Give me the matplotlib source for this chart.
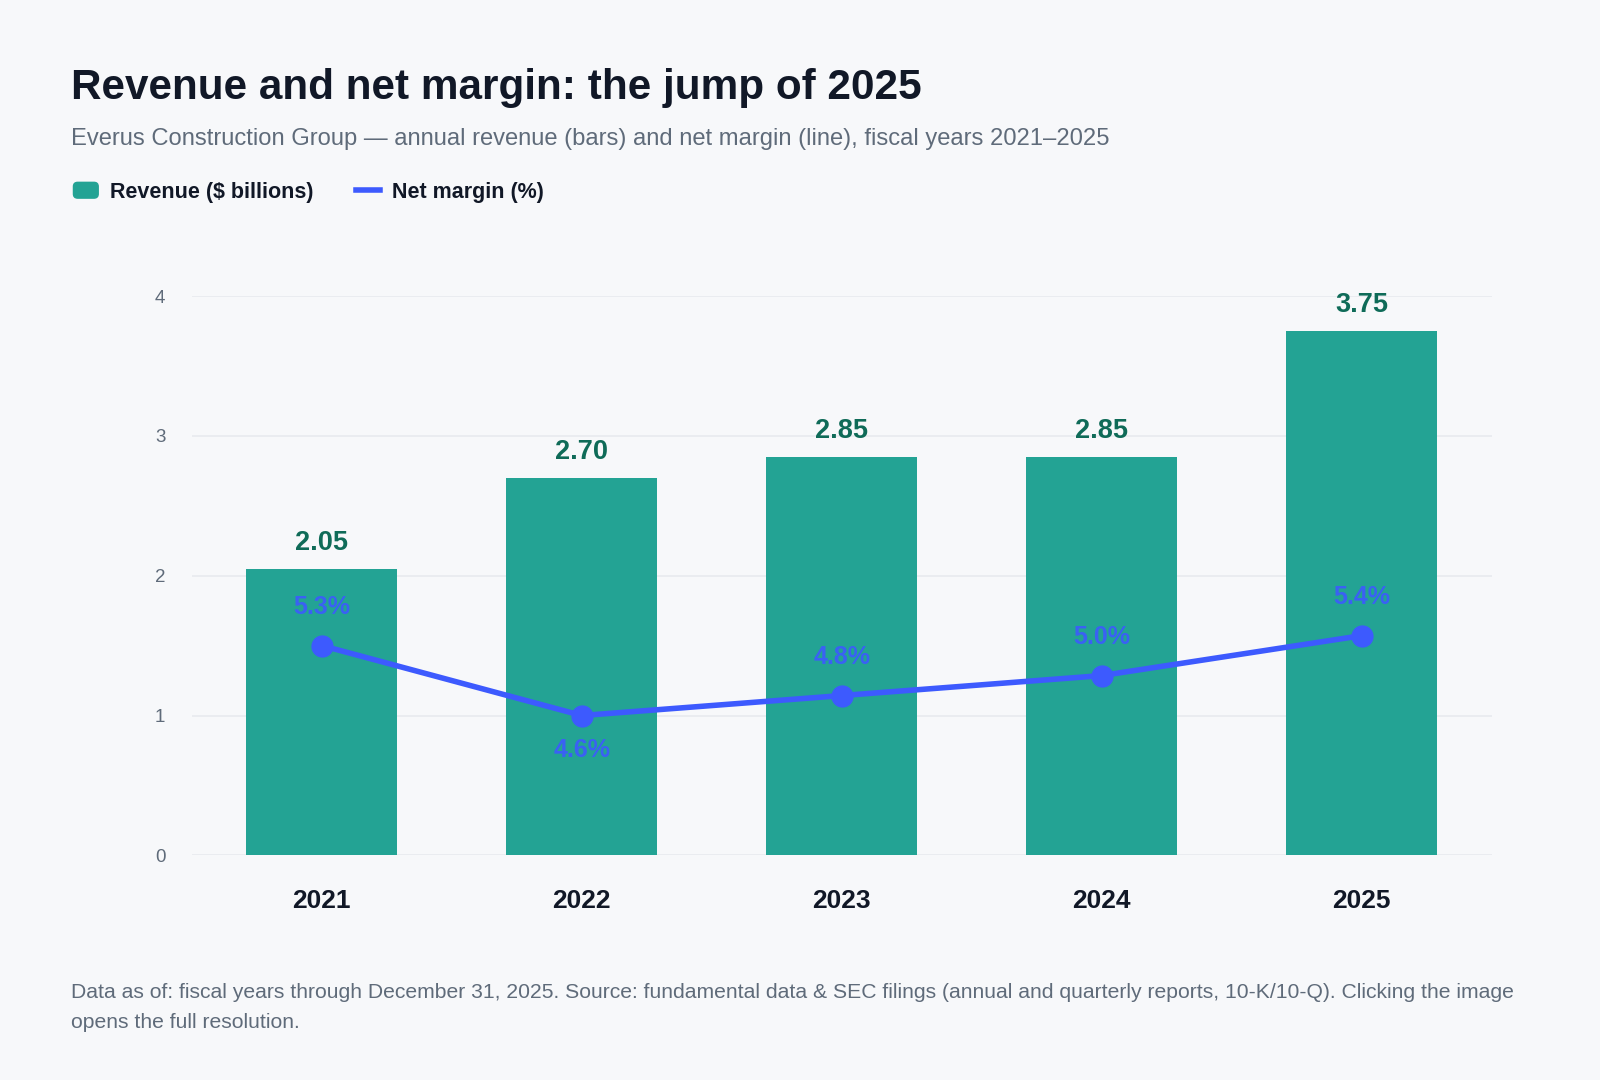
import matplotlib
matplotlib.use("Agg")
import matplotlib.pyplot as plt
import matplotlib.patches as mpatches
from matplotlib.legend_handler import HandlerPatch
from matplotlib.lines import Line2D

plt.rcParams["font.family"] = ["Liberation Sans", "DejaVu Sans"]

years = ["2021", "2022", "2023", "2024", "2025"]
revenue = [2.05, 2.70, 2.85, 2.85, 3.75]
net_margin = [5.3, 4.6, 4.8, 5.0, 5.4]
rev_ticks = [0, 1, 2, 3, 4]

BG = "#f7f8fa"
TEAL = "#23a394"
TEAL_DARK = "#0f6b58"
BLUE = "#3d5afe"
INK = "#111827"
GREY = "#5f6b7a"
GRID = "#e8eaee"


def rounded_patch(legend, orig_handle, xdescent, ydescent, width, height, fontsize):
    return mpatches.FancyBboxPatch((-xdescent, -ydescent), width, height,
                                   boxstyle="round,pad=0,rounding_size=3")


fig = plt.figure(figsize=(16, 10.8), dpi=100, facecolor=BG)
ax = fig.add_axes([0.1199, 0.2080, 0.8125, 0.5179])
ax.set_facecolor(BG)

x = list(range(len(years)))
ax.bar(x, revenue, width=0.58, color=TEAL, zorder=2)
for xi, v in zip(x, revenue):
    ax.annotate(f"{v:.2f}", (xi, v), xytext=(0, 9.5), textcoords="offset points",
                ha="center", va="bottom", fontsize=19.5, fontweight="bold",
                color=TEAL_DARK, annotation_clip=False)

ax.set_xlim(-0.5, len(years) - 0.5)
ax.set_ylim(0, 4)
ax.set_yticks(rev_ticks)
ax.set_yticklabels([str(t) for t in rev_ticks])
ax.set_xticks(x)
ax.set_xticklabels(years, fontsize=19, fontweight="bold", color=INK)
ax.tick_params(axis="x", length=0, pad=24)
ax.tick_params(axis="y", length=0, pad=19, labelsize=13.5, labelcolor=GREY)
ax.grid(axis="y", color=GRID, linewidth=1.2, zorder=0)
for s in ax.spines.values():
    s.set_visible(False)

ax2 = ax.twinx()
ax2.set_ylim(3.2, 8.8)
ax2.axis("off")
ax2.plot(x, net_margin, color=BLUE, linewidth=4, marker="o", markersize=15,
         solid_capstyle="round", zorder=3)
low = min(net_margin)
for xi, m in zip(x, net_margin):
    below = m == low
    ax2.annotate(f"{m:.1f}%", (xi, m), xytext=(0, -24.5 if below else 27.5),
                 textcoords="offset points", ha="center", va="center",
                 fontsize=18, fontweight="bold", color=BLUE, alpha=0.9)

# header
fig.text(0.0446, 0.908, "Revenue and net margin: the jump of 2025", fontsize=30.4,
         fontweight="bold", color=INK, va="baseline")
fig.text(0.0446, 0.866,
         "Everus Construction Group \u2014 annual revenue (bars) and net margin (line), fiscal years 2021\u20132025",
         fontsize=17.1, color=GREY, va="baseline")

# legend
handles = [mpatches.Patch(color=TEAL), Line2D([0], [0], color=BLUE, linewidth=4)]
fig.legend(handles, ["Revenue ($ billions)", "Net margin (%)"], loc="center left",
           bbox_to_anchor=(0.0338, 0.822), ncol=2, frameon=False,
           prop={"weight": "bold", "size": 15.5}, handlelength=1.15,
           handleheight=0.75, handletextpad=0.55, columnspacing=1.95,
           labelcolor=INK,
           handler_map={mpatches.Patch: HandlerPatch(patch_func=rounded_patch)})

fig.text(0.0446, 0.0485,
         "Data as of: fiscal years through December 31, 2025. Source: fundamental data & SEC filings (annual and quarterly reports, 10-K/10-Q). Clicking the image\nopens the full resolution.",
         fontsize=15.2, color=GREY, va="baseline", linespacing=1.68)

fig.savefig("out.png", dpi=100, facecolor=BG)
